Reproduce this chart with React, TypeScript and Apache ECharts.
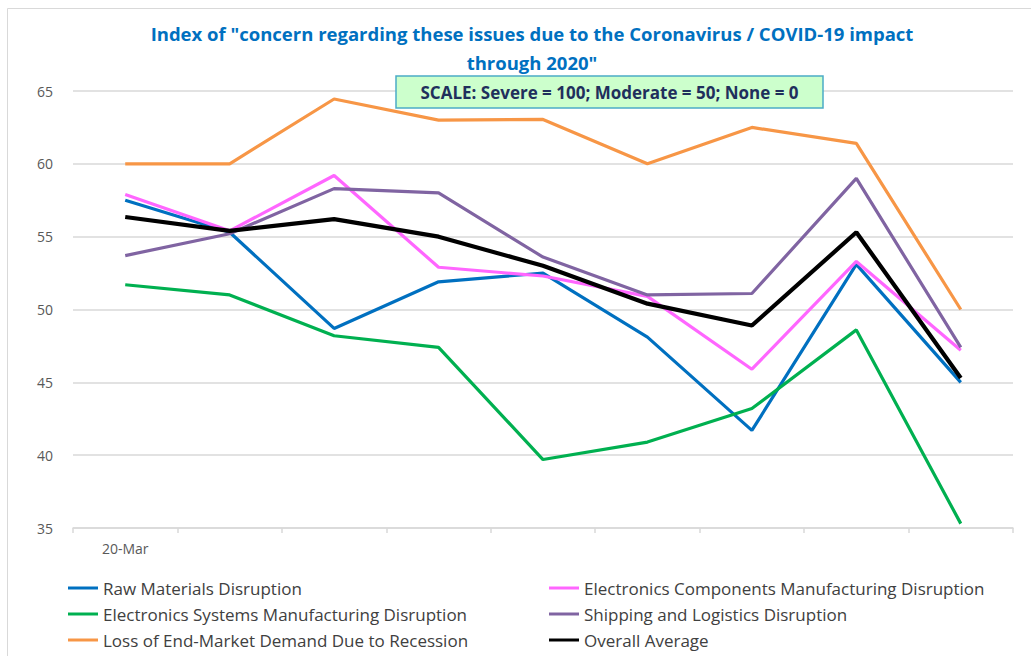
import React, { useEffect, useRef } from "react";
import * as echarts from "echarts";

const categories = ["20-Mar", "", "", "", "", "", "", "", ""];
const rawMaterials = [57.5, 55.3, 48.7, 51.9, 52.5, 48.1, 41.7, 53.1, 45.0];
const elecComponents = [57.9, 55.4, 59.2, 52.9, 52.3, 50.9, 45.9, 53.3, 47.2];
const elecSystems = [51.7, 51.0, 48.2, 47.4, 39.7, 40.9, 43.2, 48.6, 35.3];
const shipping = [53.7, 55.2, 58.3, 58.0, 53.6, 51.0, 51.1, 59.0, 47.4];
const lossDemand = [60.0, 60.0, 64.45, 63.0, 63.05, 60.0, 62.5, 61.4, 50.0];
const overall = [56.35, 55.4, 56.2, 55.0, 53.0, 50.4, 48.9, 55.3, 45.3];

const seriesNames = [
  "Raw Materials Disruption",
  "Electronics Components Manufacturing Disruption",
  "Electronics Systems Manufacturing Disruption",
  "Shipping and Logistics Disruption",
  "Loss of End-Market Demand Due to Recession",
  "Overall Average",
];
const seriesData = [rawMaterials, elecComponents, elecSystems, shipping, lossDemand, overall];
const seriesColors = ["#0070C0", "#FF66FF", "#00B050", "#8064A2", "#F79646", "#000000"];
const seriesWidths = [3.2, 3.2, 3.2, 3.2, 3.2, 4.2];

const titleText = 'Index of "concern regarding these issues due to the Coronavirus / COVID-19 impact\nthrough 2020"';
const scaleText = "SCALE: Severe = 100; Moderate = 50; None = 0";

const FONT = "'Open Sans', 'Noto Sans', sans-serif";

export default function App() {
  const ref = useRef<HTMLDivElement>(null);
  useEffect(() => {
    if (!ref.current) return;
    const chart = echarts.init(ref.current, null, { renderer: "svg" });
    const legendCommon = {
      orient: "vertical",
      icon: "rect",
      itemWidth: 30,
      itemHeight: 3,
      itemGap: 6,
      padding: 0,
      height: 78,
      textStyle: { fontFamily: FONT, fontSize: 17, color: "#404040", lineHeight: 20 },
    };
    chart.setOption({
      animation: false,
      textStyle: { fontFamily: FONT },
      title: {
        text: titleText,
        left: 527,
        top: 14,
        textAlign: "center",
        textStyle: {
          fontFamily: FONT,
          fontSize: 18.5,
          fontWeight: "bold",
          color: "#0070C0",
          lineHeight: 29,
        },
      },
      legend: [
        {
          ...legendCommon,
          left: 68,
          top: 578,
          data: [seriesNames[0], seriesNames[2], seriesNames[4]],
        },
        {
          ...legendCommon,
          left: 549,
          top: 578,
          data: [seriesNames[1], seriesNames[3], seriesNames[5]],
        },
      ],
      grid: { left: 73, right: 18, top: 91, bottom: 128, containLabel: false },
      xAxis: {
        type: "category",
        data: categories,
        boundaryGap: true,
        axisLine: { lineStyle: { color: "#D9D9D9", width: 1.5 } },
        axisTick: { show: true, interval: 0, length: 5, lineStyle: { color: "#D9D9D9", width: 1.5 } },
        axisLabel: {
          interval: 0,
          margin: 13,
          fontFamily: FONT,
          fontSize: 14,
          color: "#595959",
        },
        splitLine: { show: false },
      },
      yAxis: {
        type: "value",
        min: 35,
        max: 65,
        interval: 5,
        axisLine: { show: false },
        axisTick: { show: false },
        axisLabel: { margin: 20, fontFamily: FONT, fontSize: 14, color: "#595959" },
        splitLine: { lineStyle: { color: "#D9D9D9", width: 1.5 } },
      },
      series: seriesNames.map((name, i) => ({
        name,
        type: "line",
        data: seriesData[i],
        symbol: "none",
        color: seriesColors[i],
        lineStyle: { color: seriesColors[i], width: seriesWidths[i] },
        z: 2 + i,
      })),
      graphic: [
        {
          type: "rect",
          shape: { x: 7.5, y: 8.5, width: 1100, height: 700 },
          style: { fill: "none", stroke: "#D9D9D9", lineWidth: 1 },
          silent: true,
          z: 0,
        },
        {
          type: "rect",
          z: 100,
          shape: { x: 396, y: 76, width: 427, height: 32 },
          style: { fill: "#CCFFCC", stroke: "#4BACC6", lineWidth: 1.5 },
        },
        {
          type: "text",
          z: 101,
          x: 609.5,
          y: 92,
          style: {
            text: scaleText,
            fontFamily: FONT,
            fontSize: 17,
            fontWeight: "bold",
            fill: "#1F2F5C",
            align: "center",
            verticalAlign: "middle",
          },
        },
      ],
    });
    return () => chart.dispose();
  }, []);
  return (
    <div
      ref={ref}
      style={{ position: "fixed", left: 0, top: 0, width: 1031, height: 656, background: "#fff" }}
    />
  );
}
